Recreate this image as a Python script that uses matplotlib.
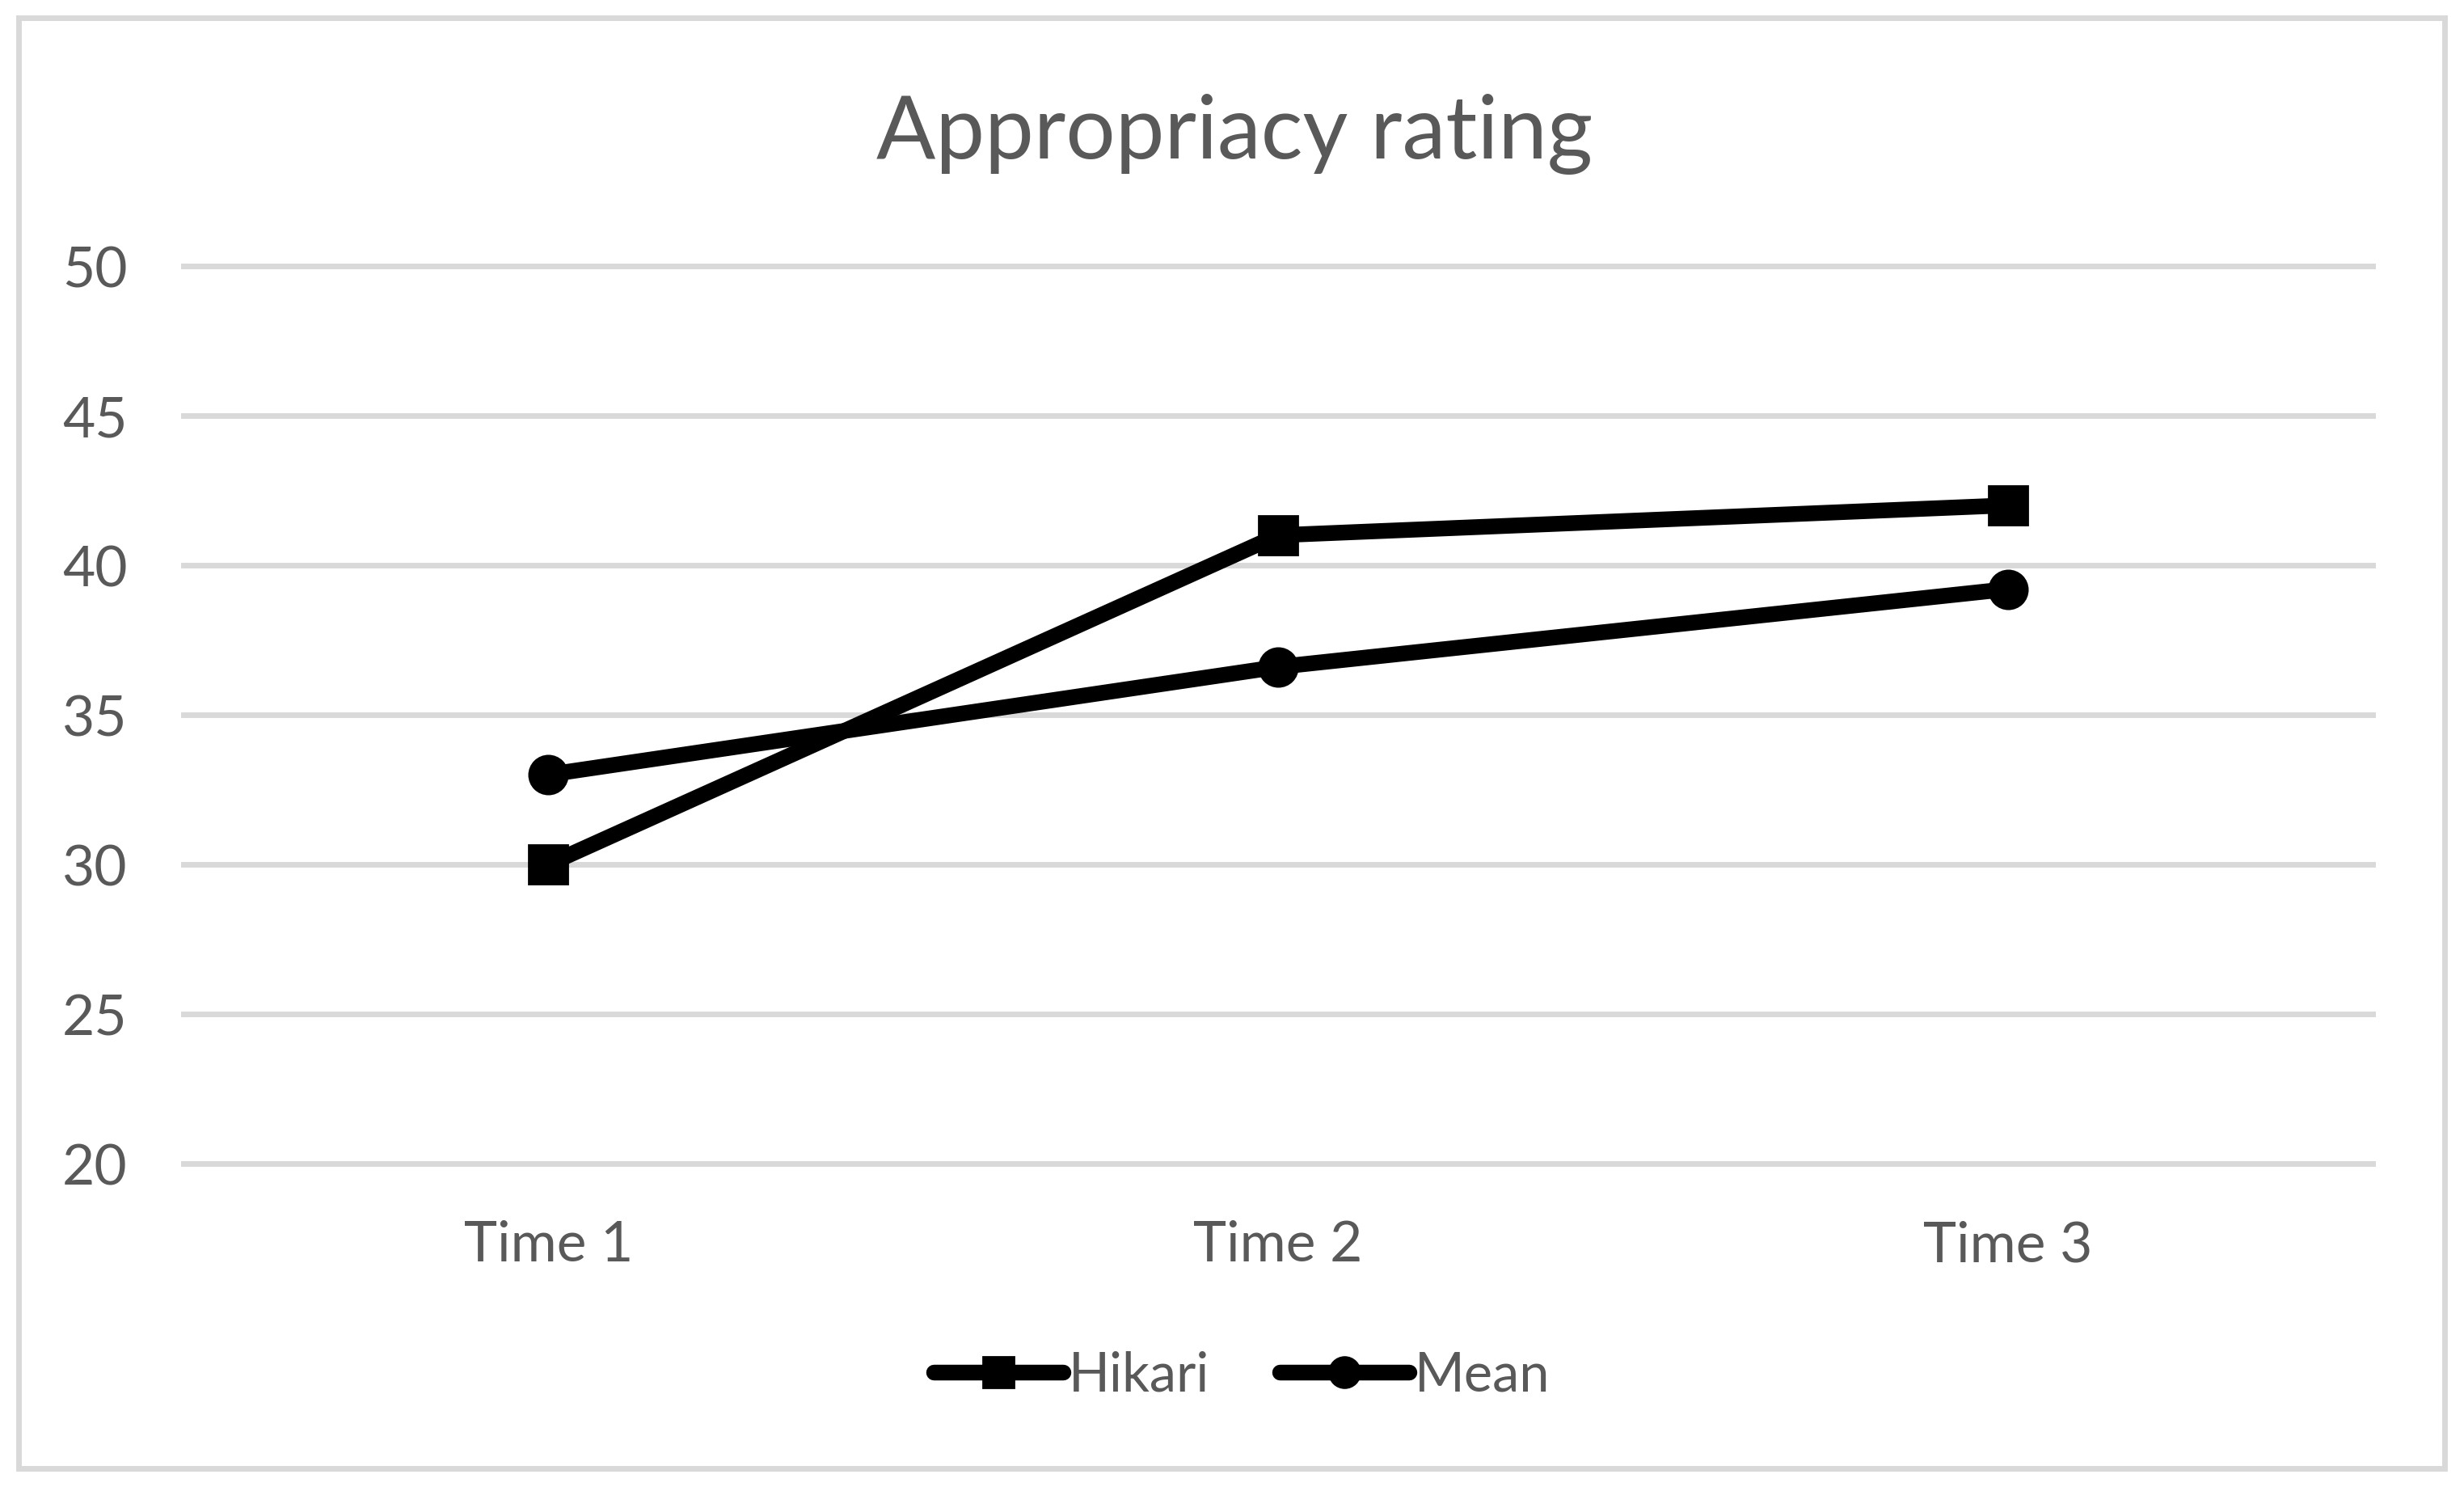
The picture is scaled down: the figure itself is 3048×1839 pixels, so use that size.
import matplotlib.pyplot as plt
from matplotlib.patches import Rectangle

# chart data
categories = ['Time 1', 'Time 2', 'Time 3']
hikari = [30, 41, 42]
mean = [33, 36.6, 39.2]
y_ticks = [20, 25, 30, 35, 40, 45, 50]

text_color = '#595959'
grid_color = '#D9D9D9'

plt.rcParams['font.family'] = ['Lato', 'DejaVu Sans']

fig = plt.figure(figsize=(15.24, 9.2), dpi=200)
ax = fig.add_axes([0.0745, 0.2174, 0.8885, 0.6033])

x = list(range(len(categories)))
ax.plot(x, hikari, color='black', lw=7, marker='s', ms=17,
        solid_capstyle='round', label='Hikari', zorder=3)
ax.plot(x, mean, color='black', lw=7, marker='o', ms=17,
        solid_capstyle='round', label='Mean', zorder=3)

ax.set_xlim(-0.5, len(categories) - 0.5)
ax.set_ylim(20, 50)
ax.set_yticks(y_ticks)
ax.set_xticks(x)
ax.set_xticklabels(categories)

ax.yaxis.grid(True, color=grid_color, lw=2.5)
for gl in ax.get_ygridlines():
    gl.set_clip_on(False)
ax.set_axisbelow(True)
for s in ax.spines.values():
    s.set_visible(False)
ax.tick_params(axis='both', length=0, labelsize=25, labelcolor=text_color)
ax.tick_params(axis='y', pad=25)
ax.tick_params(axis='x', pad=25)

fig.suptitle('Appropriacy rating', x=0.501, y=0.937, fontsize=39,
             color=text_color)

leg = ax.legend(loc='center', bbox_to_anchor=(0.504, 0.075),
                bbox_transform=fig.transFigure, ncol=2, frameon=False,
                fontsize=24, labelcolor=text_color, markerscale=0.8,
                handlelength=2.4, handletextpad=0.1, columnspacing=1.3)

# outer chart border
fig.patches.append(Rectangle((0.0075, 0.0125), 0.9845, 0.975,
                             transform=fig.transFigure, fill=False,
                             edgecolor=grid_color, lw=2.5))

fig.savefig('out.png', dpi=200)
